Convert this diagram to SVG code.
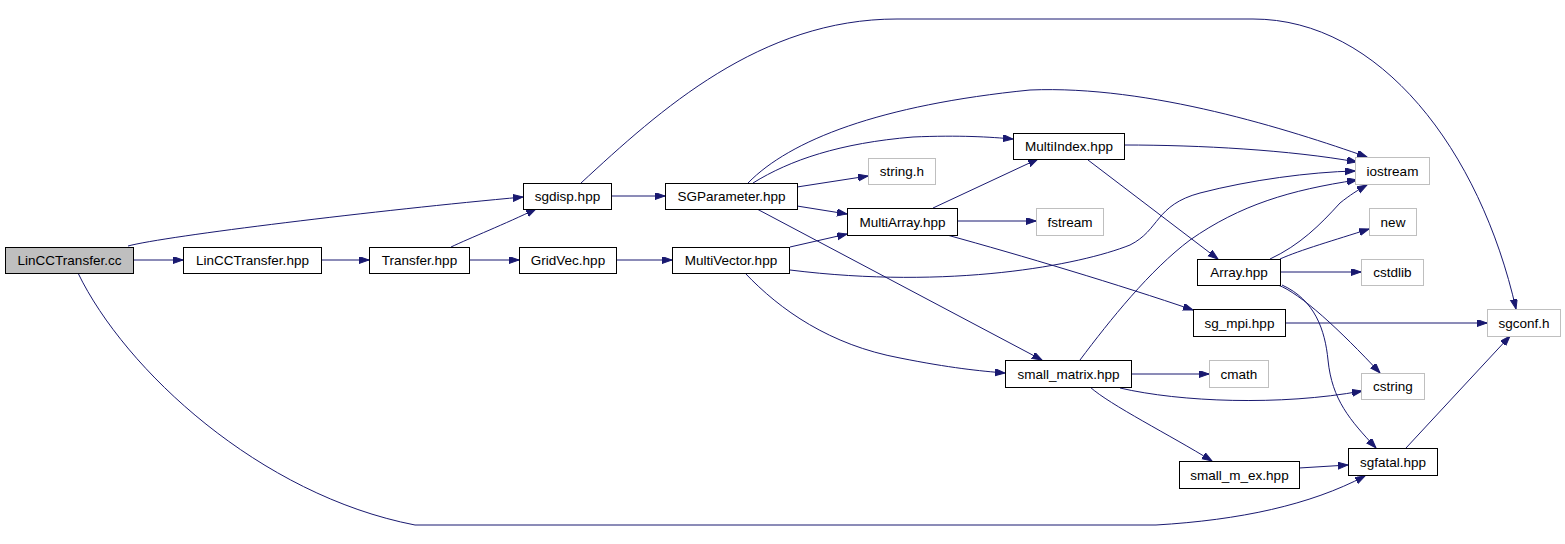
<svg xmlns="http://www.w3.org/2000/svg" width="1565" height="544" viewBox="0 0 1565 544">
<style>
.n rect{fill:#fff;stroke:#000;stroke-width:1}
.n.ext rect{stroke:#bfbfbf}
.n.root rect{fill:#bfbfbf}
.n text{font-family:"Liberation Sans",Arial,sans-serif;font-size:13.5px;text-anchor:middle;fill:#000}
.e path{fill:none;stroke:#191970;stroke-width:1;marker-end:url(#ah)}
</style>
<defs>
<marker id="ah" markerUnits="userSpaceOnUse" markerWidth="11" markerHeight="8" refX="10" refY="3.5" orient="auto">
<path d="M0,0 L10,3.5 L0,7 z" fill="#191970" stroke="#191970" stroke-width="1"/>
</marker>
</defs>
<rect width="1565" height="544" fill="#fff"/>
<g class="e" id="edges">
<path d="M133,260 L183,260"/>
<path d="M128,246 C165,236 380,210 523,197"/>
<path d="M78,273 C125,370 260,495 415,525 L1156,525 C1240,520 1310,505 1365,476"/>
<path d="M321,260 L369,260"/>
<path d="M451,247 C470,238 505,224 536,209"/>
<path d="M469,260 L519,260"/>
<path d="M611,196 L665,196"/>
<path d="M581,183 C660,110 760,19 897,19 L1253,19 C1380,19 1480,150 1516,309"/>
<path d="M748,183 C790,140 880,105 1030,90 C1150,85 1290,130 1367,157"/>
<path d="M753,183 C790,160 840,143 913,137 C960,135 990,137 1013,139"/>
<path d="M797,187 L868,176"/>
<path d="M797,206 L847,214"/>
<path d="M757,209 L1042,360"/>
<path d="M616,260 L672,260"/>
<path d="M790,247 L847,234"/>
<path d="M790,270 C950,290 1080,265 1130,245 C1160,230 1155,205 1200,193 C1250,180 1310,172 1355,171"/>
<path d="M745,273 C780,310 830,345 900,358 C950,368 980,371 1005,373"/>
<path d="M933,208 L1038,159"/>
<path d="M957,221 L1036,221"/>
<path d="M947,235 C1020,255 1120,285 1193,310"/>
<path d="M1124,145 C1200,145 1290,150 1357,162"/>
<path d="M1088,160 L1218,259"/>
<path d="M1270,259 C1300,245 1320,225 1340,203 C1350,195 1358,190 1367,185"/>
<path d="M1280,259 C1300,250 1335,240 1369,229"/>
<path d="M1280,272 L1361,272"/>
<path d="M1278,285 C1300,293 1340,330 1380,373"/>
<path d="M1282,285 C1315,300 1325,330 1328,360 C1332,400 1350,420 1376,448"/>
<path d="M1285,323 L1487,323"/>
<path d="M1080,360 C1110,320 1150,270 1190,240 C1240,205 1290,190 1357,180"/>
<path d="M1131,374 L1209,374"/>
<path d="M1120,388 C1180,402 1280,406 1362,391"/>
<path d="M1090,387 C1110,405 1170,435 1212,461"/>
<path d="M1299,468 L1348,465"/>
<path d="M1406,448 L1510,336"/>
</g>
<g class="n root" id="n_LinCCTransfer_cc"><rect x="5.5" y="247.5" width="128" height="26"/><text x="69.5" y="265">LinCCTransfer.cc</text></g>
<g class="n" id="n_LinCCTransfer_hpp"><rect x="183.5" y="247.5" width="138" height="26"/><text x="252.5" y="265">LinCCTransfer.hpp</text></g>
<g class="n" id="n_Transfer_hpp"><rect x="369.5" y="247.5" width="100" height="26"/><text x="419.5" y="265">Transfer.hpp</text></g>
<g class="n" id="n_GridVec_hpp"><rect x="519.5" y="247.5" width="97" height="26"/><text x="568" y="265">GridVec.hpp</text></g>
<g class="n" id="n_MultiVector_hpp"><rect x="672.5" y="247.5" width="117" height="26"/><text x="731" y="265">MultiVector.hpp</text></g>
<g class="n" id="n_sgdisp_hpp"><rect x="523.5" y="183.5" width="88" height="26"/><text x="567.5" y="201">sgdisp.hpp</text></g>
<g class="n" id="n_SGParameter_hpp"><rect x="665.5" y="183.5" width="132" height="26"/><text x="731.5" y="201">SGParameter.hpp</text></g>
<g class="n ext" id="n_string_h"><rect x="868.5" y="158.5" width="67" height="26"/><text x="902" y="176">string.h</text></g>
<g class="n" id="n_MultiArray_hpp"><rect x="847.5" y="208.5" width="110" height="27"/><text x="902.5" y="226.5">MultiArray.hpp</text></g>
<g class="n" id="n_MultiIndex_hpp"><rect x="1013.5" y="133.5" width="111" height="26"/><text x="1069" y="151">MultiIndex.hpp</text></g>
<g class="n ext" id="n_fstream"><rect x="1036.5" y="208.5" width="67" height="27"/><text x="1070" y="226.5">fstream</text></g>
<g class="n ext" id="n_iostream"><rect x="1355.5" y="157.5" width="74" height="27"/><text x="1392.5" y="175.5">iostream</text></g>
<g class="n ext" id="n_new"><rect x="1369.5" y="208.5" width="47" height="27"/><text x="1393" y="226.5">new</text></g>
<g class="n" id="n_Array_hpp"><rect x="1197.5" y="259.5" width="83" height="26"/><text x="1239" y="277">Array.hpp</text></g>
<g class="n ext" id="n_cstdlib"><rect x="1361.5" y="259.5" width="62" height="26"/><text x="1392.5" y="277">cstdlib</text></g>
<g class="n" id="n_sg_mpi_hpp"><rect x="1193.5" y="309.5" width="92" height="27"/><text x="1239.5" y="327.5">sg_mpi.hpp</text></g>
<g class="n ext" id="n_sgconf_h"><rect x="1487.5" y="309.5" width="73" height="27"/><text x="1524" y="327.5">sgconf.h</text></g>
<g class="n" id="n_small_matrix_hpp"><rect x="1005.5" y="360.5" width="126" height="27"/><text x="1068.5" y="378.5">small_matrix.hpp</text></g>
<g class="n ext" id="n_cmath"><rect x="1209.5" y="360.5" width="59" height="27"/><text x="1239" y="378.5">cmath</text></g>
<g class="n ext" id="n_cstring"><rect x="1361.5" y="373.5" width="63" height="26"/><text x="1393" y="391">cstring</text></g>
<g class="n" id="n_small_m_ex_hpp"><rect x="1179.5" y="461.5" width="120" height="27"/><text x="1239.5" y="479.5">small_m_ex.hpp</text></g>
<g class="n" id="n_sgfatal_hpp"><rect x="1348.5" y="448.5" width="89" height="27"/><text x="1393" y="466.5">sgfatal.hpp</text></g>
</svg>
